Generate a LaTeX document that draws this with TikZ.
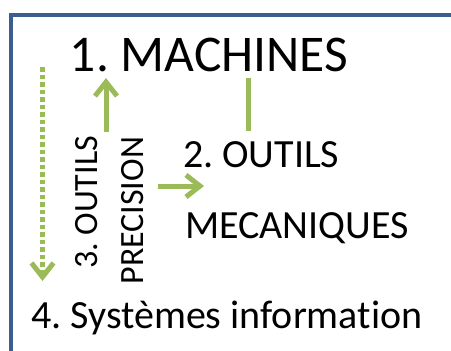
\documentclass[tikz,border=0pt]{standalone}
\usepackage{fontspec}
\setmainfont[Ligatures={NoCommon,NoRare}]{Carlito}
\frenchspacing
\usetikzlibrary{arrows.meta}
\definecolor{frameblue}{HTML}{3B5E8E}
\definecolor{leaf}{HTML}{9BBB59}
\tikzset{
  lbl/.style={inner sep=0pt, outer sep=0pt, text=black},
  big/.style={lbl, font=\fontsize{51.5}{60}\selectfont},
  mid/.style={lbl, font=\fontsize{40}{44}\selectfont},
  small/.style={lbl, font=\fontsize{34}{40}\selectfont},
  link/.style={draw=leaf, line width=5pt},
  barb/.style={-{Straight Barb[length=14pt, width=22pt, line width=5pt]}},
}
\begin{document}
\begin{tikzpicture}[x=1pt, y=-1pt]
\useasboundingbox (0,0) rectangle (451,351);
\draw[frameblue, line width=4pt] (10.5,380) -- (10.5,15) -- (480,15);
\node[big, anchor=base west] (m1) at (70,71) {1. MACHINES};
\node[mid, anchor=base west] (o2) at (183,167) {2. OUTILS};
\node[mid, anchor=base west] (mec) at (185,238) {MECANIQUES};
\node[mid, anchor=base west] (si) at (31,328) {4. Systèmes information};
\node[small, rotate=90, anchor=base east] (o3) at (97,136) {3. OUTILS};
\node[small, rotate=90, anchor=base east] (pr) at (143,137) {PRECISION};
\coordinate (upS) at (106,132);
\coordinate (upE) at (106,78);
\coordinate (lnS) at (248,78);
\coordinate (lnE) at (248,131);
\coordinate (rtS) at (158,186);
\coordinate (rtE) at (204,186);
\coordinate (dnS) at (42.5,67);
\coordinate (dnE) at (42.5,281);
\draw[link, barb] (upS) -- (upE);
\draw[link] (lnS) -- (lnE);
\draw[link, barb] (rtS) -- (rtE);
\draw[link, barb, dash pattern=on 4.5pt off 3pt] (dnS) -- (dnE);
\end{tikzpicture}
\end{document}
